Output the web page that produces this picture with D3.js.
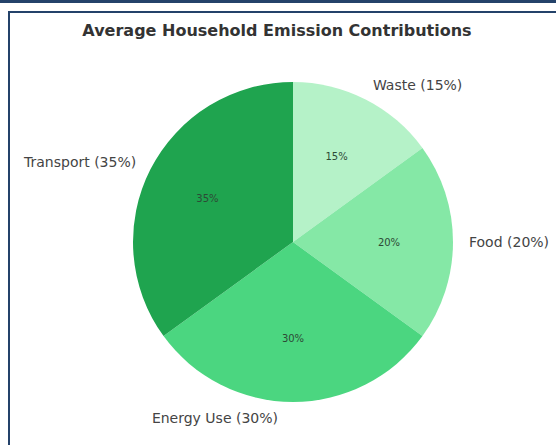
<!DOCTYPE html>
<html>
<head>
<meta charset="utf-8">
<script src="https://cdn.jsdelivr.net/npm/d3@7"></script>
<style>
  html, body { margin: 0; padding: 0; background: #fff; }
  svg { display: block; }
</style>
</head>
<body>
<svg id="chart" width="556" height="445"></svg>
<script>
// Emission shares by category, in drawing order (clockwise from 12 o'clock)
const categories = ["Waste", "Food", "Energy Use", "Transport"];
const shares = [15, 20, 30, 35];
const sliceColors = ["#b5f2c8", "#85e8a6", "#4bd680", "#1fa44f"];
const title = "Average Household Emission Contributions";

const width = 556, height = 445;
const cx = 293, cy = 242, radius = 160;

const svg = d3.select("#chart");

// Frame: dark band along the top, and an inner panel outline
svg.append("rect").attr("x", 0).attr("y", 0).attr("width", width).attr("height", 3)
  .attr("fill", "#24426a");
svg.append("rect").attr("x", 9).attr("y", 12).attr("width", width + 20).attr("height", height + 20)
  .attr("fill", "none").attr("stroke", "#24426a").attr("stroke-width", 2);

svg.append("text")
  .attr("x", cx - 16).attr("y", 36)
  .attr("text-anchor", "middle")
  .attr("font-family", "DejaVu Sans")
  .attr("font-weight", "bold")
  .attr("font-size", 16)
  .attr("fill", "#333")
  .text(title);

const data = categories.map((c, i) => ({ name: c, value: shares[i], color: sliceColors[i] }));

const pie = d3.pie().sort(null).value(d => d.value).startAngle(0).endAngle(2 * Math.PI);
const arcs = pie(data);

const arc = d3.arc().innerRadius(0).outerRadius(radius);
const pctArc = d3.arc().innerRadius(radius * 0.6).outerRadius(radius * 0.6);

const g = svg.append("g").attr("transform", `translate(${cx},${cy})`);

g.selectAll("path.slice")
  .data(arcs)
  .join("path")
  .attr("class", "slice")
  .attr("d", arc)
  .attr("fill", d => d.data.color);

// Percentage labels inside the slices
g.selectAll("text.pct")
  .data(arcs)
  .join("text")
  .attr("class", "pct")
  .attr("transform", d => `translate(${pctArc.centroid(d)})`)
  .attr("text-anchor", "middle")
  .attr("dominant-baseline", "central")
  .attr("font-family", "DejaVu Sans")
  .attr("font-size", 10)
  .attr("fill", "#2d4a36")
  .text(d => `${d.data.value}%`);

// Category labels just outside the rim
g.selectAll("text.cat")
  .data(arcs)
  .join("text")
  .attr("class", "cat")
  .each(function (d) {
    const mid = (d.startAngle + d.endAngle) / 2;
    const r = radius * 1.1;
    const x = r * Math.sin(mid);
    const y = -r * Math.cos(mid);
    const right = x > 1e-6;
    d3.select(this)
      .attr("x", right ? x : (Math.abs(x) < 1e-6 ? x - 15 : x))
      .attr("y", y)
      .attr("text-anchor", right ? "start" : "end");
  })
  .attr("dominant-baseline", "central")
  .attr("font-family", "DejaVu Sans")
  .attr("font-size", 14)
  .attr("fill", "#444")
  .text(d => `${d.data.name} (${d.data.value}%)`);
</script>
</body>
</html>
